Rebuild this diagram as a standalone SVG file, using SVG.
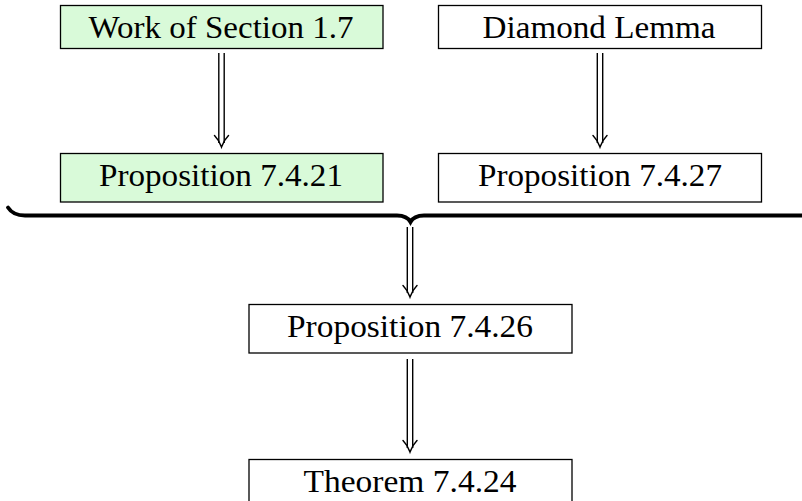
<svg xmlns="http://www.w3.org/2000/svg" width="802" height="501" viewBox="0 0 802 501">
<defs>
<style>
.box{fill:#ffffff;stroke:#000;stroke-width:1.3}
.green{fill:#d9fad9}
.lbl{font-family:"Liberation Serif","Times New Roman",serif;font-size:31px;fill:#000;text-anchor:middle}
.shaft{stroke:#000;stroke-width:1.4;fill:none}
.head{stroke:#000;stroke-width:1.5;fill:none;stroke-linecap:round}
.brace{stroke:#000;stroke-width:3.8;fill:none;stroke-linecap:round}
</style>
</defs>
<rect width="802" height="501" fill="#fff"/>
<g id="connectors">
<g id="a1">
<line class="shaft" x1="218.8" y1="53" x2="218.8" y2="143"/>
<line class="shaft" x1="224.2" y1="53" x2="224.2" y2="143"/>
<path class="head" d="M214.5 135.5 Q219 140 221.5 147 Q224 140 228.5 135.5"/>
</g>
<g id="a2">
<line class="shaft" x1="597.3" y1="53" x2="597.3" y2="143"/>
<line class="shaft" x1="602.7" y1="53" x2="602.7" y2="143"/>
<path class="head" d="M593 135.5 Q597.5 140 600 147 Q602.5 140 607 135.5"/>
</g>
<g id="a3">
<line class="shaft" x1="407.3" y1="227" x2="407.3" y2="293"/>
<line class="shaft" x1="412.7" y1="227" x2="412.7" y2="293"/>
<path class="head" d="M403 285.5 Q407.5 290 410 297 Q412.5 290 417 285.5"/>
</g>
<g id="a4">
<line class="shaft" x1="407.3" y1="359" x2="407.3" y2="448"/>
<line class="shaft" x1="412.7" y1="359" x2="412.7" y2="448"/>
<path class="head" d="M403 440.5 Q407.5 445 410 452 Q412.5 445 417 440.5"/>
</g>
<path id="brace" class="brace" d="M8 207.5 Q13 215.5 25 215.5 L397 215.5 Q407 215.5 410.5 222 Q414 215.5 424 215.5 L806 215.5"/>
</g>
<g id="n1">
<rect class="box green" x="60.5" y="5.5" width="322.5" height="43"/>
<text class="lbl" x="221" y="37.5" textLength="265" lengthAdjust="spacingAndGlyphs">Work of Section 1.7</text>
</g>
<g id="n2">
<rect class="box" x="438.5" y="5.5" width="323" height="43"/>
<text class="lbl" x="599" y="37.5" textLength="233" lengthAdjust="spacingAndGlyphs">Diamond Lemma</text>
</g>
<g id="n3">
<rect class="box green" x="60.5" y="153.5" width="322.5" height="48.5"/>
<text class="lbl" x="221" y="186" textLength="244" lengthAdjust="spacingAndGlyphs">Proposition 7.4.21</text>
</g>
<g id="n4">
<rect class="box" x="438.5" y="153.5" width="323" height="48.5"/>
<text class="lbl" x="600" y="186" textLength="244" lengthAdjust="spacingAndGlyphs">Proposition 7.4.27</text>
</g>
<g id="n5">
<rect class="box" x="249" y="304.5" width="323" height="48.5"/>
<text class="lbl" x="410" y="337" textLength="246" lengthAdjust="spacingAndGlyphs">Proposition 7.4.26</text>
</g>
<g id="n6">
<rect class="box" x="249" y="459.5" width="323" height="43"/>
<text class="lbl" x="410" y="491.5" textLength="213" lengthAdjust="spacingAndGlyphs">Theorem 7.4.24</text>
</g>
</svg>
